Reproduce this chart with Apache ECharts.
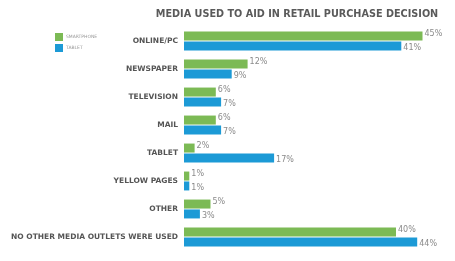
<!DOCTYPE html>
<html><head><meta charset="utf-8">
<script src="https://cdn.jsdelivr.net/npm/echarts@6/dist/echarts.min.js"></script>
<style>html,body{margin:0;padding:0;background:#fff}#c{width:455px;height:261px}</style>
</head><body><div id="c"></div>
<script>
const categories = ["ONLINE/PC","NEWSPAPER","TELEVISION","MAIL","TABLET","YELLOW PAGES","OTHER","NO OTHER MEDIA OUTLETS WERE USED"];
const smartphone = [45,12,6,6,2,1,5,40];
const tablet = [41,9,7,7,17,1,3,44];
const chart = echarts.init(document.getElementById('c'));
const labelBase = {show:true, position:'right', color:'#8a8a8a', fontSize:8, fontFamily:'DejaVu Sans', formatter:'{c}%', distance:2};
chart.setOption({
  animation:false,
  title:{text:'MEDIA USED TO AID IN RETAIL PURCHASE DECISION', left:292, textAlign:'center', top:4,
    textStyle:{fontSize:9.7, fontWeight:'bold', color:'#5a5a5a', fontFamily:'DejaVu Sans'}},
  legend:{orient:'vertical', left:50, top:28, itemWidth:8, itemHeight:8, itemGap:3, icon:'rect',
    textStyle:{fontSize:4.5, color:'#999', fontFamily:'DejaVu Sans', padding:[0,0,0,-2]}},
  grid:{left:184, right:6, top:27, bottom:10},
  xAxis:{type:'value', min:0, max:50, show:false},
  yAxis:{type:'category', data:categories, inverse:true, axisLine:{show:false}, axisTick:{show:false},
    axisLabel:{fontSize:7.5, fontWeight:'bold', color:'#555', fontFamily:'DejaVu Sans', margin:6}},
  series:[
    {name:'SMARTPHONE', type:'bar', data:smartphone, barWidth:9, barGap:'10%', itemStyle:{color:'#7cba55'},
     label:Object.assign({}, labelBase, {offset:[0,-2]})},
    {name:'TABLET', type:'bar', data:tablet, barWidth:9, itemStyle:{color:'#1c9ad6'},
     label:Object.assign({}, labelBase, {offset:[0,2]})}
  ]
});
</script></body></html>
